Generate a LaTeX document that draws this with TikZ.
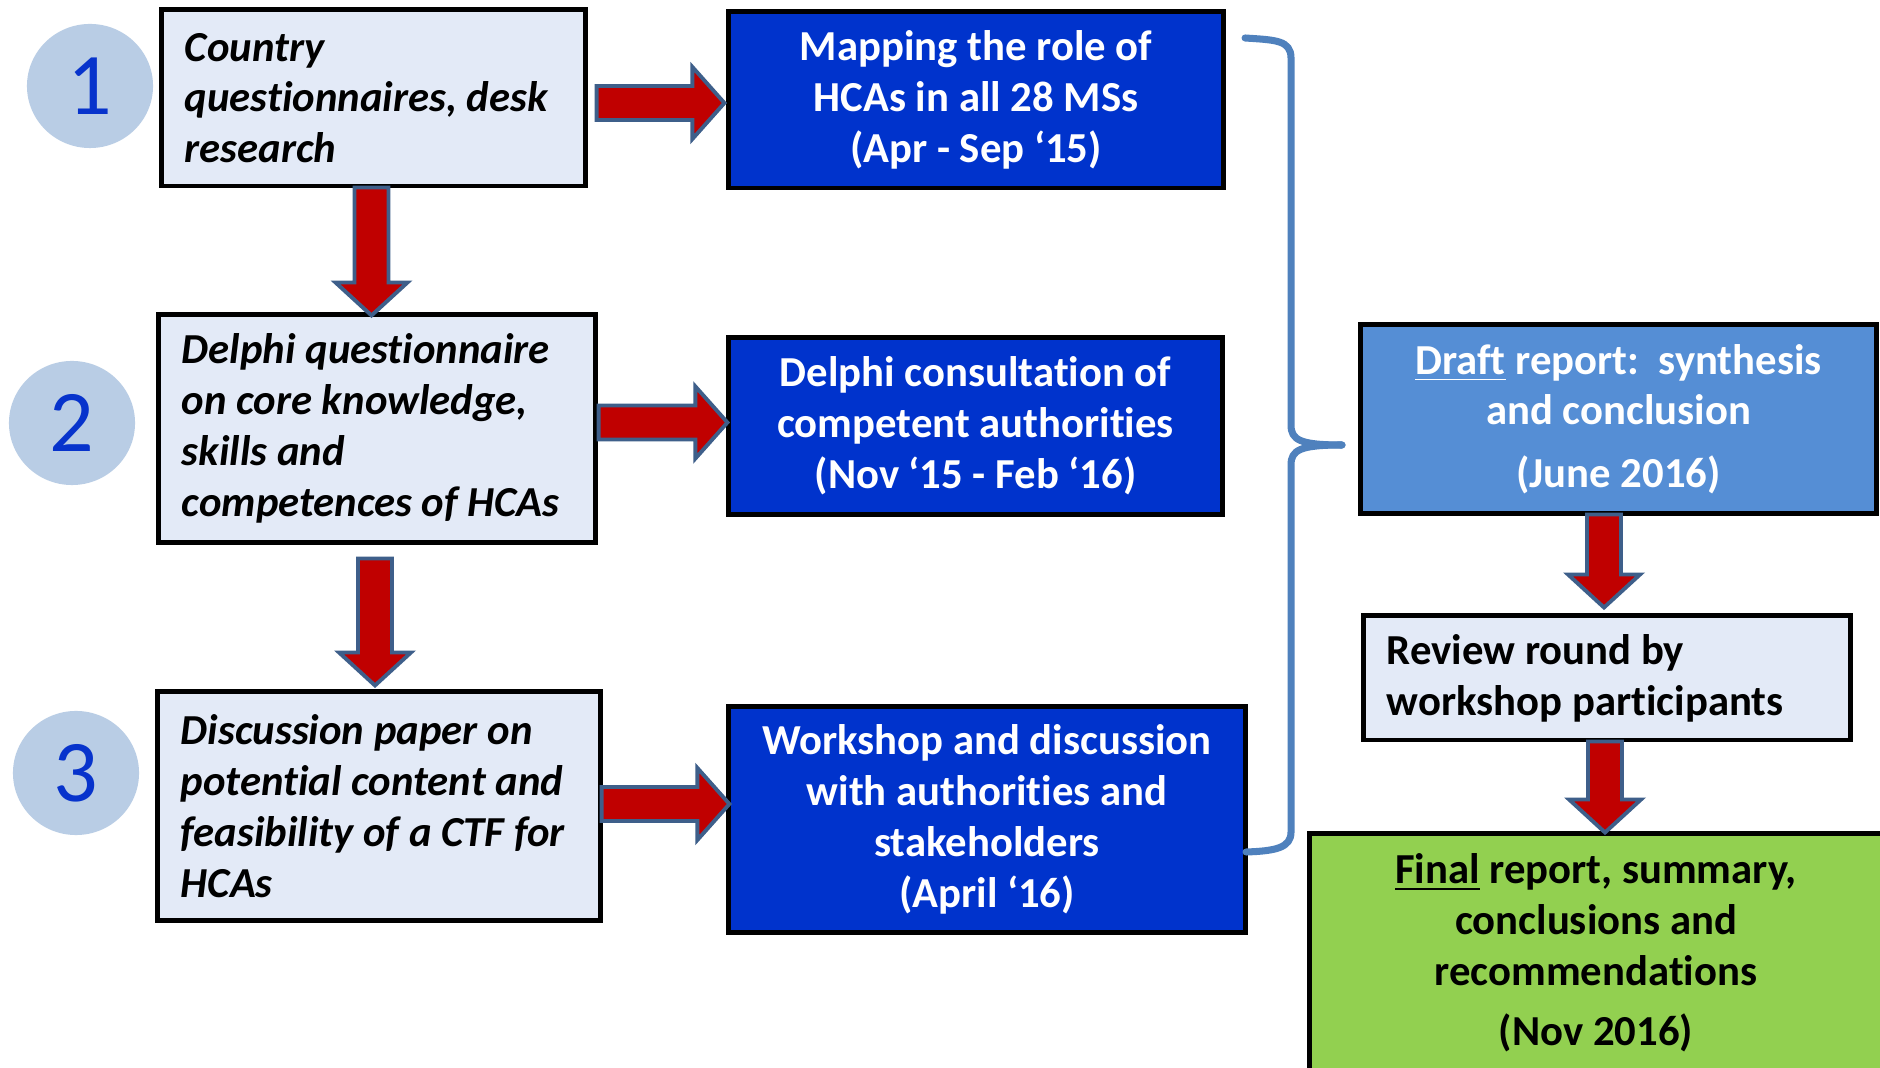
\documentclass[tikz,border=0pt]{standalone}
\usepackage{fontspec}
\setmainfont{Carlito}[Ligatures=NoCommon]
\usetikzlibrary{calc,shapes.geometric}
\definecolor{lightbox}{HTML}{E3EAF7}
\definecolor{deepblue}{HTML}{0033CC}
\definecolor{midblue}{HTML}{558ED5}
\definecolor{finalgreen}{HTML}{92D050}
\definecolor{circfill}{HTML}{B9CDE5}
\definecolor{numblue}{HTML}{0733CC}
\definecolor{arrowred}{HTML}{C00000}
\definecolor{arrowedge}{HTML}{3E5F8A}
\definecolor{bracecol}{HTML}{4F81BD}
\tikzset{
  txt/.style={font=\fontsize{12.15}{14.45}\selectfont\bfseries},
  lbox/.style={txt, draw=black, line width=1.4pt, fill=lightbox, inner xsep=2.3mm, align=flush left, font=\fontsize{12.15}{14.45}\selectfont\bfseries\itshape},
  rbox/.style={txt, draw=black, line width=1.4pt, fill=lightbox, inner xsep=2.3mm, align=flush left},
  dbox/.style={txt, draw=black, line width=1.4pt, fill=deepblue, text=white, align=flush center},
  mbox/.style={txt, draw=black, line width=1.4pt, fill=midblue, text=white, align=flush center},
  gbox/.style={txt, draw=black, line width=1.4pt, fill=finalgreen, text=black, align=flush center},
  numcirc/.style={ellipse, fill=circfill, minimum width=12.6mm, minimum height=12.4mm, inner sep=0pt, text=numblue, font=\fontsize{25}{25}\selectfont},
  barrow/.style={fill=arrowred, draw=arrowedge, line width=1.1pt, line join=miter},
  bracestyle/.style={draw=bracecol, line width=2pt, line cap=round, line join=round}
}
\newcommand\harrow[2]{\draw[barrow] let \p1=#1, \p2=#2 in
  (\x1,\y1+1.7mm) -- (\x2-3.2mm,\y1+1.7mm) -- (\x2-3.2mm,\y1+3.6mm) -- (\x2,\y1)
  -- (\x2-3.2mm,\y1-3.6mm) -- (\x2-3.2mm,\y1-1.7mm) -- (\x1,\y1-1.7mm) -- cycle;}
\newcommand\varrow[2]{\draw[barrow] let \p1=#1, \p2=#2 in
  (\x1-1.7mm,\y1) -- (\x1-1.7mm,\y2+3.3mm) -- (\x1-3.6mm,\y2+3.3mm) -- (\x1,\y2)
  -- (\x1+3.6mm,\y2+3.3mm) -- (\x1+1.7mm,\y2+3.3mm) -- (\x1+1.7mm,\y1) -- cycle;}
\begin{document}
\begin{tikzpicture}[x=0.01cm,y=-0.01cm]
\useasboundingbox[fill=white] (0,0) rectangle (1880,1068);

% number circles
\node[numcirc] (c1) at (90,86) {1};
\node[numcirc] (c2) at (72,423) {2};
\node[numcirc] (c3) at (76,773) {3};

% left boxes
\node[lbox, text width=42.3mm-4.6mm, minimum height=17.6mm] (b1) at (373.5,98)
  {Country\\questionnaires, desk\\research};
\node[lbox, text width=43.6mm-4.6mm, minimum height=22.7mm] (b2) at (377,428.5)
  {Delphi questionnaire\\on core knowledge,\\skills and\\competences of HCAs};
\node[lbox, text width=44.2mm-4.6mm, minimum height=22.8mm] (b3) at (379,806)
  {Discussion paper on\\potential content and\\feasibility of a CTF for\\HCAs};

% middle boxes
\node[dbox, minimum width=49.4mm, minimum height=17.6mm] (mA) at (976,100)
  {Mapping the role of\\HCAs in all 28 MSs\\(Apr - Sep ‘15)};
\node[dbox, minimum width=49.3mm, minimum height=17.6mm] (mB) at (975.5,426)
  {Delphi consultation of\\competent authorities\\(Nov ‘15 - Feb ‘16)};
\node[dbox, minimum width=51.6mm, minimum height=22.5mm] (mC) at (987,819.5)
  {Workshop and discussion\\with authorities and\\stakeholders\\(April ‘16)};

% right boxes
\node[mbox, minimum width=51.5mm, minimum height=18.8mm] (draft) at (1618.5,419)
  {\underline{Draft} report:\ \ synthesis\\and conclusion\\[3.3pt](June 2016)};
\node[rbox, text width=48.6mm-4.6mm, minimum height=12.4mm] (rev) at (1607,678)
  {Review round by\\workshop participants};
\node[gbox, minimum width=57.2mm, minimum height=23.8mm] (fin) at (1596,953)
  {\underline{Final} report, summary,\\conclusions and\\recommendations\\[2.8pt](Nov 2016)};

% block arrows
\harrow{($(b1.east)+(9,5)$)}{($(mA.west)+(-2,3)$)}
\harrow{($(b2.east)+(1,-6)$)}{($(mB.west)+(1,-4)$)}
\harrow{($(b3.east)+(-1,-2)$)}{($(mC.west)+(3,-15)$)}
\varrow{($(b1.south)+(-2,-1)$)}{($(b2.north)+(-6,3)$)}
\varrow{($(b2.south)+(-2,14)$)}{($(b3.north)+(-4,-4)$)}
\varrow{($(rev.north |- draft.south)+(-3,-1)$)}{($(rev.north)+(-3,-6)$)}
\varrow{($(rev.south)+(-2,-1)$)}{($(rev.south |- fin.north)+(-2,1)$)}

% brace
\coordinate (braceTop) at (1245,38);
\coordinate (braceTip) at (1342,445);
\coordinate (braceBot) at (1246,852);
\draw[bracestyle] (braceTop) .. controls (1275,40) and (1291,40) .. (1291,58)
  -- (1291,425) .. controls (1291,440) and (1300,445) .. (braceTip);
\draw[bracestyle] (braceTip) .. controls (1300,445) and (1291,450) .. (1291,465)
  -- (1291,832) .. controls (1291,848) and (1275,851) .. (braceBot);
\end{tikzpicture}
\end{document}
